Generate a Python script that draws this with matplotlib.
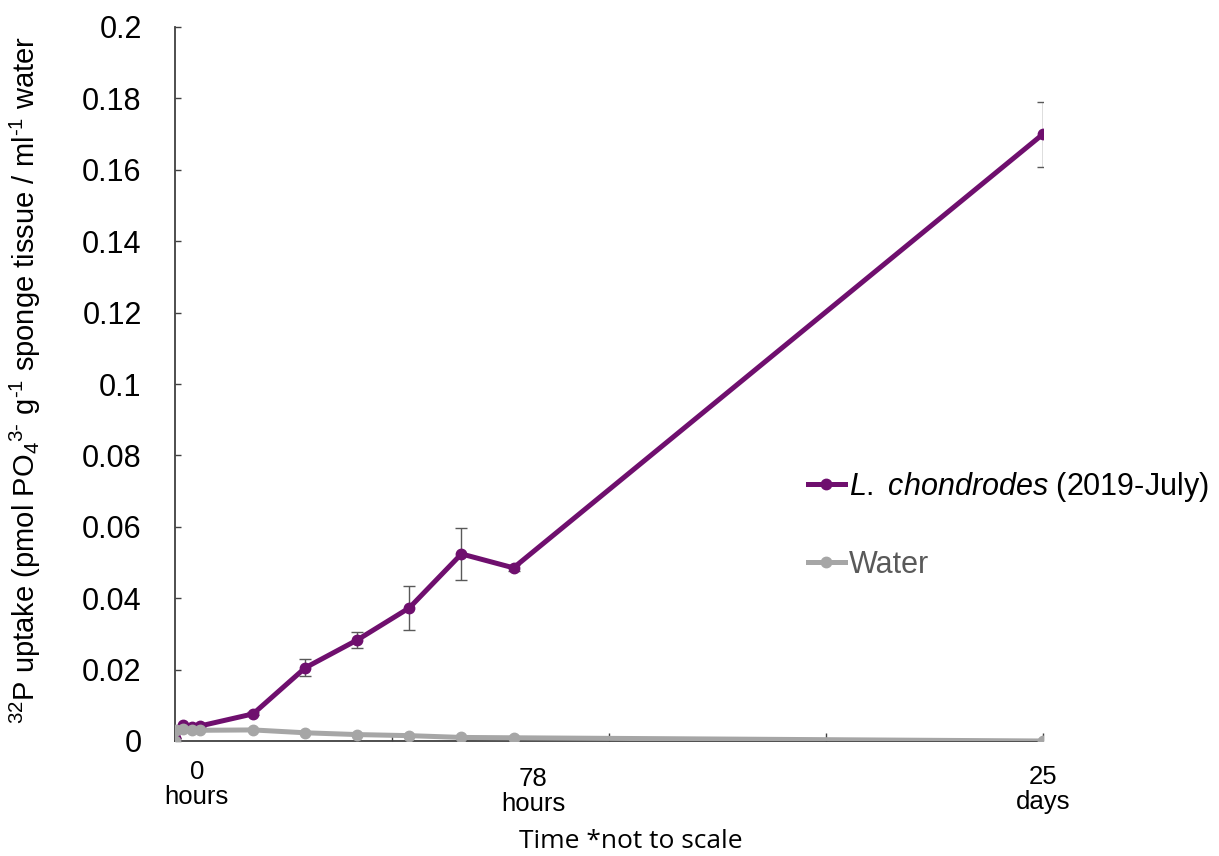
import matplotlib
matplotlib.use("Agg")
import matplotlib.pyplot as plt
from matplotlib.lines import Line2D

plt.rcParams['font.family'] = ['Liberation Sans', 'DejaVu Sans']
plt.rcParams['mathtext.fontset'] = 'custom'
plt.rcParams['mathtext.rm'] = 'Liberation Sans'
plt.rcParams['mathtext.it'] = 'Liberation Sans:italic'

# positions along the (not-to-scale) time axis; 1 unit = one major tick interval
time_pos = [0.0, 0.037, 0.078, 0.115, 0.36, 0.60, 0.84, 1.08, 1.32, 1.56, 4.0]
sponge = [0.0008, 0.0045, 0.0038, 0.0042, 0.0076, 0.0205, 0.0283, 0.0373, 0.0524, 0.0485, 0.170]
sponge_err = [0, 0, 0, 0, 0.0004, 0.0024, 0.0022, 0.0061, 0.0073, 0.0008, 0.0091]
water_pos = [0.0, 0.005, 0.037, 0.078, 0.115, 0.36, 0.60, 0.84, 1.08, 1.32, 1.56, 4.0]
water = [0.0, 0.0030, 0.0034, 0.0030, 0.0030, 0.0031, 0.0023, 0.0018, 0.0015, 0.0010, 0.0009, 0.0]
yticks = [0, 0.02, 0.04, 0.06, 0.08, 0.1, 0.12, 0.14, 0.16, 0.18, 0.2]
ytick_labels = ['0', '0.02', '0.04', '0.06', '0.08', '0.1', '0.12', '0.14', '0.16', '0.18', '0.2']
time_labels = [(0.1, '0\nhours', -14), (1.65, '78\nhours', -19), (4.0, '25\ndays', -17)]

purple = '#6f0f6e'
gray = '#a6a6a6'

fig = plt.figure(figsize=(12.19, 8.56), dpi=100)
ax = fig.add_axes([175/1219, 1-741/856, (1043-175)/1219, (741-27)/856])

ax.errorbar(time_pos, sponge, yerr=sponge_err, color=purple, lw=3.6, marker='o', ms=7.5,
            ecolor='#595959', elinewidth=1.0, capsize=4, capthick=1.0, zorder=3)
ax.plot(water_pos, water, color=gray, lw=3.6, marker='o', ms=7.5, zorder=4)

ax.set_xlim(0, 4)
ax.set_ylim(0, 0.2)
ax.set_yticks(yticks)
ax.set_yticklabels(ytick_labels)
ax.set_xticks([1, 2, 3, 4])
ax.set_xticklabels([])
for s in ['top', 'right']:
    ax.spines[s].set_visible(False)
for s in ['left', 'bottom']:
    ax.spines[s].set_linewidth(1.3)
    ax.spines[s].set_color('#404040')
ax.tick_params(axis='y', direction='in', length=4, width=1, pad=24, labelsize=22, colors='#404040')
ax.tick_params(axis='x', direction='in', length=6, width=1, colors='#404040')
for lab in ax.get_yticklabels():
    lab.set_color('black')

for x, t, off in time_labels:
    ax.annotate(t, xy=(x, 0), xycoords='data', xytext=(0, off), textcoords='offset points',
                ha='center', va='top', fontsize=18.5, linespacing=1.05)

fig.text(631/1219, 1-842/856, 'Time *not to scale', ha='center', va='center',
         fontsize=19, family=['Open Sans', 'DejaVu Sans'])

ylab = r'$^{32}$P uptake (pmol PO$_4$$^{3\text{-}}$ g$^{\text{-}1}$ sponge tissue / ml$^{\text{-}1}$ water'
fig.text(25/1219, 1-380/856, ylab, rotation=90, ha='center', va='center', fontsize=21)

handles = [Line2D([], [], color=purple, lw=3.6, marker='o', ms=7.5),
           Line2D([], [], color=gray, lw=3.6, marker='o', ms=7.5)]
labels = [r'$\it{L.\ chondrodes}$ (2019-July)', 'Water']
leg = ax.legend(handles, labels, loc='upper left', bbox_to_anchor=(808/1219, 1-470/856),
                bbox_transform=fig.transFigure,
                frameon=False, fontsize=22, handlelength=1.2, handletextpad=0.15,
                labelspacing=1.5, borderaxespad=0, borderpad=0)
leg.get_texts()[1].set_color('#595959')

fig.savefig('out.png', dpi=100)
